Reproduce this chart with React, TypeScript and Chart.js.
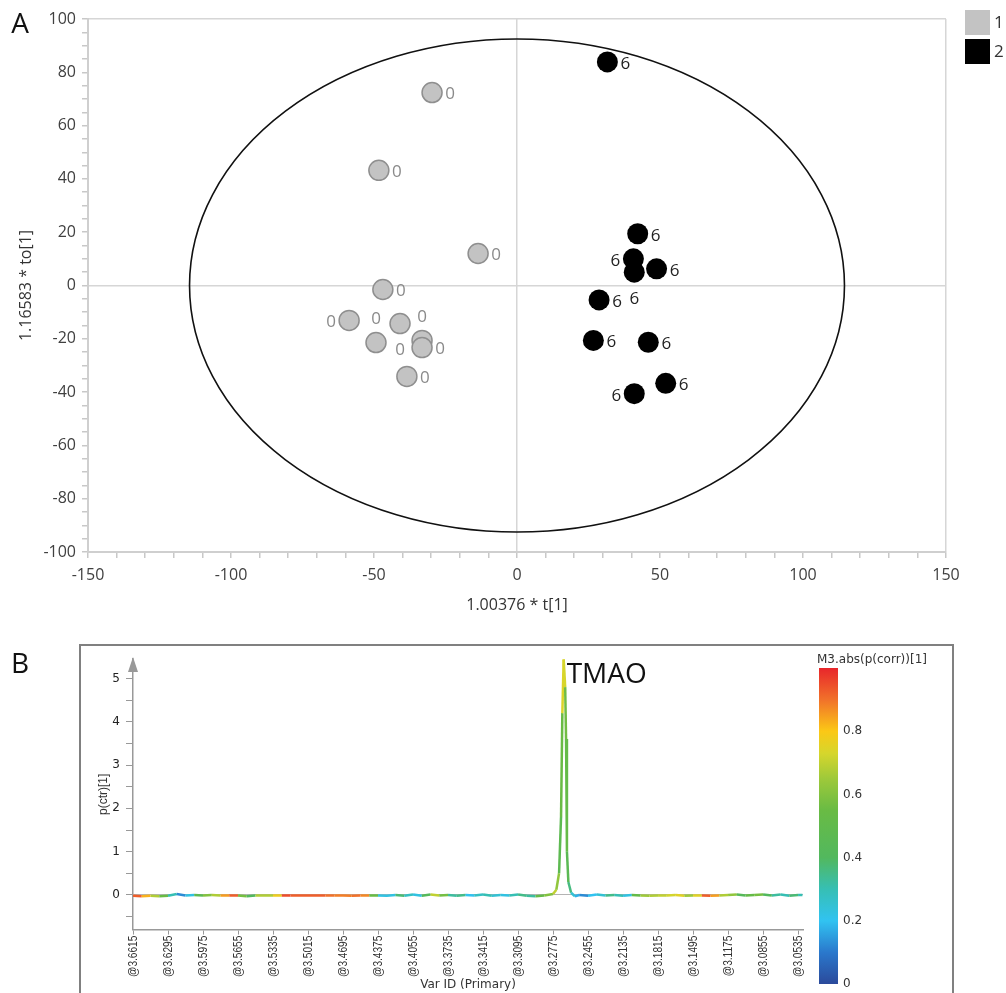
import React, { useEffect, useRef } from 'react';
import { Chart, registerables } from 'chart.js';

Chart.register(...registerables);

// ---------------- Panel A data (OPLS-DA scores) ----------------
const GROUP_NAMES = ['1', '2'];
const GROUP1_X = [-29.7, -48.3, -13.6, -46.9, -58.7, -40.9, -49.3, -33.2, -33.2, -38.5];
const GROUP1_Y = [72.4, 43.2, 12.0, -1.5, -13.1, -14.3, -21.4, -20.6, -23.3, -34.1];
const GROUP1_LABELS = ['0', '0', '0', '0', '0', '0', '0', '0', '0', '0'];
const GROUP2_X = [31.6, 42.2, 40.7, 41.0, 48.8, 28.7, 26.7, 45.9, 52.0, 41.0];
const GROUP2_Y = [83.9, 19.4, 10.0, 5.0, 6.25, -5.4, -20.6, -21.3, -36.7, -40.6];
const GROUP2_LABELS = ['6', '6', '6', '6', '6', '6', '6', '6', '6', '6'];
const A_X_TITLE = '1.00376 * t[1]';
const A_Y_TITLE = '1.16583 * to[1]';
const ELLIPSE_RX = 114.5;
const ELLIPSE_RY = 92.5;

// ---------------- Panel B data (S-line loading plot) ----------------
const PPM = [
  3.6615, 3.6535, 3.6455, 3.6375, 3.6295, 3.6215, 3.6135, 3.6055, 3.5975, 3.5895,
  3.5815, 3.5735, 3.5655, 3.5575, 3.5495, 3.5415, 3.5335, 3.5255, 3.5175, 3.5095,
  3.5015, 3.4935, 3.4855, 3.4775, 3.4695, 3.4615, 3.4535, 3.4455, 3.4375, 3.4295,
  3.4215, 3.4135, 3.4055, 3.3975, 3.3895, 3.3815, 3.3735, 3.3655, 3.3575, 3.3495,
  3.3415, 3.3335, 3.3255, 3.3175, 3.3095, 3.3015, 3.2935, 3.2855, 3.2775,
  3.2745, 3.2720, 3.2702, 3.2690, 3.2678, 3.2664, 3.2656, 3.2648, 3.2635, 3.2610, 3.2575, 3.2535,
  3.2455, 3.2375, 3.2295, 3.2215, 3.2135, 3.2055, 3.1975, 3.1895, 3.1815, 3.1735,
  3.1655, 3.1575, 3.1495, 3.1415, 3.1335, 3.1255, 3.1175, 3.1095, 3.1015, 3.0935,
  3.0855, 3.0775, 3.0695, 3.0615, 3.0535, 3.0495,
];
const P_CTR = [
  -0.02, -0.03, -0.02, -0.03, -0.02, 0.02, -0.01, 0.0, -0.01, 0.0,
  -0.01, -0.01, -0.01, -0.03, -0.01, -0.01, -0.01, -0.01, -0.01, -0.01,
  -0.01, -0.01, -0.01, -0.01, -0.01, -0.02, -0.01, -0.01, -0.01, -0.02,
  0.0, -0.02, 0.01, -0.02, 0.01, -0.01, 0.0, -0.02, 0.0, -0.01,
  0.01, -0.02, 0.0, -0.01, 0.01, -0.02, -0.03, -0.01, 0.02,
  0.12, 0.5, 1.8, 4.2, 5.44, 4.8, 3.6, 1.0, 0.3, 0.05, -0.03, 0.0,
  -0.02, 0.01, -0.01, 0.0, -0.02, 0.0, -0.01, -0.02, -0.01, -0.01,
  0.0, -0.02, -0.01, -0.01, -0.02, -0.01, 0.0, 0.01, -0.01, 0.0,
  0.01, -0.01, 0.01, -0.02, 0.0, 0.0,
];
const ABS_PCORR = [
  0.95, 0.9, 0.75, 0.6, 0.5, 0.1, 0.15, 0.3, 0.65, 0.55,
  0.8, 0.9, 0.95, 0.2, 0.6, 0.75, 0.6, 0.95, 0.95, 0.9,
  0.95, 0.9, 0.95, 0.85, 0.92, 0.85, 0.95, 0.8, 0.3, 0.15,
  0.3, 0.45, 0.1, 0.35, 0.5, 0.9, 0.25, 0.4, 0.3, 0.1,
  0.45, 0.15, 0.35, 0.1, 0.5, 0.2, 0.45, 0.6, 0.6,
  0.8, 0.45, 0.5, 0.6, 0.88, 0.58, 0.55, 0.5, 0.42, 0.3, 0.2, 0.15,
  0.1, 0.3, 0.2, 0.5, 0.1, 0.35, 0.7, 0.6, 0.75, 0.65,
  0.8, 0.7, 0.6, 0.9, 0.95, 0.75, 0.6, 0.65, 0.2, 0.85,
  0.3, 0.5, 0.15, 0.45, 0.3, 0.3,
];
const B_X_TICKS = [
  3.6615, 3.6295, 3.5975, 3.5655, 3.5335, 3.5015, 3.4695, 3.4375, 3.4055, 3.3735,
  3.3415, 3.3095, 3.2775, 3.2455, 3.2135, 3.1815, 3.1495, 3.1175, 3.0855, 3.0535,
];
const B_X_TITLE = 'Var ID (Primary)';
const B_Y_TITLE = 'p(ctr)[1]';
const COLORBAR_TITLE = 'M3.abs(p(corr))[1]';
const COLORBAR_TICKS = [0, 0.2, 0.4, 0.6, 0.8];
const PEAK_NAME = 'TMAO';

// ---------------- styles ----------------
const FONT_A = '"Open Sans", "Noto Sans", sans-serif';
const FONT_B = '"DejaVu Sans", Verdana, sans-serif';
const FONT_ARIAL = '"Liberation Sans", Arial, sans-serif';

const CMAP_STOPS: [number, number[]][] = [
  [0, [43, 74, 155]],
  [0.1, [42, 120, 204]],
  [0.2, [49, 195, 241]],
  [0.3, [54, 191, 180]],
  [0.4, [82, 184, 94]],
  [0.55, [105, 187, 68]],
  [0.65, [158, 201, 58]],
  [0.73, [214, 214, 44]],
  [0.8, [251, 200, 22]],
  [0.9, [241, 113, 42]],
  [1, [232, 38, 43]],
];
function cmap(v: number): string {
  const t = Math.max(0, Math.min(1, v));
  for (let i = 1; i < CMAP_STOPS.length; i++) {
    const [t1, c1] = CMAP_STOPS[i];
    const [t0, c0] = CMAP_STOPS[i - 1];
    if (t <= t1) {
      const f = (t - t0) / (t1 - t0);
      const c = c0.map((a, k) => Math.round(a + (c1[k] - a) * f));
      return `rgb(${c[0]},${c[1]},${c[2]})`;
    }
  }
  const c = CMAP_STOPS[CMAP_STOPS.length - 1][1];
  return `rgb(${c[0]},${c[1]},${c[2]})`;
}

// label placement relative to the point centre (style only)
const R: [number, number] = [18, 2];
const L: [number, number] = [-18, 2];
const UP: [number, number] = [0, -23];
const DN: [number, number] = [0, 27];
const G1_LABEL_POS = [R, R, R, R, L, DN, UP, UP, R, R];
const G2_LABEL_POS = [R, R, L, DN, R, R, R, R, R, L];

const panelAPlugin = {
  id: 'panelA',
  beforeDatasetsDraw(chart: any) {
    const { ctx, scales } = chart;
    const x = scales.x, y = scales.y;
    const cx = x.getPixelForValue(0);
    const cy = y.getPixelForValue(0);
    const rx = x.getPixelForValue(ELLIPSE_RX) - cx;
    const ry = cy - y.getPixelForValue(ELLIPSE_RY);
    ctx.save();
    ctx.beginPath();
    ctx.ellipse(cx, cy, rx, ry, 0, 0, Math.PI * 2);
    ctx.lineWidth = 1.6;
    ctx.strokeStyle = '#111';
    ctx.stroke();
    ctx.restore();
  },
  afterDraw(chart: any) {
    const { ctx } = chart;
    ctx.save();
    const sets = [
      { labels: GROUP1_LABELS, pos: G1_LABEL_POS, color: '#8a8a8a' },
      { labels: GROUP2_LABELS, pos: G2_LABEL_POS, color: '#222' },
    ];
    ctx.font = `17px ${FONT_A}`;
    ctx.textAlign = 'center';
    ctx.textBaseline = 'middle';
    sets.forEach((s, di) => {
      const meta = chart.getDatasetMeta(di);
      meta.data.forEach((el: any, i: number) => {
        const p = s.pos[i];
        ctx.fillStyle = s.color;
        ctx.fillText(s.labels[i], el.x + p[0], el.y + p[1]);
      });
    });
    const boxes = ['#c3c3c3', '#000000'];
    ctx.font = `17px ${FONT_A}`;
    ctx.textAlign = 'left';
    GROUP_NAMES.forEach((name, i) => {
      const top = 10 + i * 29;
      ctx.fillStyle = boxes[i];
      ctx.fillRect(965, top, 25, 25);
      ctx.fillStyle = '#333';
      ctx.fillText(name, 994, top + 13);
    });
    ctx.font = `28px ${FONT_A}`;
    ctx.fillStyle = '#111';
    ctx.textAlign = 'center';
    ctx.fillText('A', 20, 25);
    ctx.restore();
  },
};

const panelBPlugin = {
  id: 'panelB',
  afterDraw(chart: any) {
    const { ctx, chartArea } = chart;
    ctx.save();
    // frame
    ctx.strokeStyle = '#808080';
    ctx.lineWidth = 2;
    ctx.beginPath();
    ctx.moveTo(80, chart.height + 5);
    ctx.lineTo(80, 20);
    ctx.lineTo(953, 20);
    ctx.lineTo(953, chart.height + 5);
    ctx.stroke();
    // panel letter
    ctx.font = `28px ${FONT_A}`;
    ctx.fillStyle = '#111';
    ctx.textAlign = 'center';
    ctx.textBaseline = 'middle';
    ctx.fillText('B', 20, 40);
    // y-axis arrow
    const ax = chartArea.left;
    ctx.fillStyle = '#999';
    ctx.beginPath();
    ctx.moveTo(ax, chartArea.top - 2);
    ctx.lineTo(ax - 5, chartArea.top + 13);
    ctx.lineTo(ax + 5, chartArea.top + 13);
    ctx.closePath();
    ctx.fill();
    // condensed, rotated x tick labels
    const xs = chart.scales.x;
    ctx.font = `13px ${FONT_ARIAL}`;
    ctx.fillStyle = '#333';
    B_X_TICKS.forEach((v) => {
      const px = xs.getPixelForValue(v);
      ctx.save();
      ctx.translate(px, chartArea.bottom + 6);
      ctx.rotate(-Math.PI / 2);
      ctx.scale(0.78, 1);
      ctx.textAlign = 'right';
      ctx.textBaseline = 'middle';
      ctx.fillText('@' + v.toFixed(4), 0, 0);
      ctx.restore();
    });
    // peak label
    const meta = chart.getDatasetMeta(0);
    let best = 0;
    P_CTR.forEach((v, i) => { if (v > P_CTR[best]) best = i; });
    const pk = meta.data[best];
    ctx.font = `28px ${FONT_A}`;
    ctx.fillStyle = '#111';
    ctx.textAlign = 'left';
    ctx.textBaseline = 'alphabetic';
    ctx.fillText(PEAK_NAME, pk.x + 3, pk.y + 24);
    // colour bar
    const cbL = 819, cbR = 838, cbTop = 43, cbBot = 359;
    const grad = ctx.createLinearGradient(0, cbBot, 0, cbTop);
    CMAP_STOPS.forEach(([t]) => grad.addColorStop(t, cmap(t)));
    ctx.fillStyle = grad;
    ctx.fillRect(cbL, cbTop, cbR - cbL, cbBot - cbTop);
    ctx.font = `12px ${FONT_B}`;
    ctx.fillStyle = '#333';
    ctx.textAlign = 'left';
    ctx.textBaseline = 'middle';
    COLORBAR_TICKS.forEach((t) => {
      const yy = cbBot - t * (cbBot - cbTop);
      ctx.fillText(String(t), cbR + 5, yy);
    });
    ctx.fillText(COLORBAR_TITLE, 817, 35);
    ctx.restore();
  },
};

export default function App() {
  const refA = useRef<HTMLCanvasElement>(null);
  const refB = useRef<HTMLCanvasElement>(null);

  useEffect(() => {
    const chartA = new Chart(refA.current as HTMLCanvasElement, {
      type: 'scatter',
      data: {
        datasets: [
          {
            label: GROUP_NAMES[0],
            data: GROUP1_X.map((x, i) => ({ x, y: GROUP1_Y[i] })),
            backgroundColor: '#c3c3c3',
            borderColor: '#8f8f8f',
            borderWidth: 1.5,
            pointRadius: 10,
          },
          {
            label: GROUP_NAMES[1],
            data: GROUP2_X.map((x, i) => ({ x, y: GROUP2_Y[i] })),
            backgroundColor: '#000',
            borderColor: '#000',
            borderWidth: 0,
            pointRadius: 10.5,
          },
        ],
      },
      options: {
        responsive: false,
        animation: false,
        layout: { padding: { left: 0, right: 60, top: 19, bottom: 10 } },
        plugins: { legend: { display: false }, tooltip: { enabled: false } },
        scales: {
          x: {
            type: 'linear',
            min: -150,
            max: 150,
            afterFit: (s: any) => { s.height = 63; },
            border: { color: '#cfcfcf', width: 2 },
            grid: {
              color: (c: any) => (c.tick && (c.tick.value === 0 || c.tick.value === 150) ? '#d6d6d6' : 'rgba(0,0,0,0)'),
              lineWidth: 1.5,
              tickColor: '#c8c8c8',
              tickLength: 6,
            },
            ticks: {
              stepSize: 10,
              autoSkip: false,
              maxRotation: 0,
              padding: 8,
              color: '#404040',
              font: { family: FONT_A, size: 16 },
              callback: (v: any) => (v % 50 === 0 ? String(v) : ''),
            },
            title: {
              display: true,
              text: A_X_TITLE,
              color: '#333',
              font: { family: FONT_A, size: 16 },
              padding: { top: 0, bottom: 0 },
            },
          },
          y: {
            type: 'linear',
            min: -100,
            max: 100,
            afterFit: (s: any) => { s.width = 88; },
            border: { color: '#cfcfcf', width: 2 },
            grid: {
              color: (c: any) => (c.tick && (c.tick.value === 0 || c.tick.value === 100) ? '#d6d6d6' : 'rgba(0,0,0,0)'),
              lineWidth: 1.5,
              tickColor: '#c8c8c8',
              tickLength: 6,
            },
            ticks: {
              stepSize: 5,
              autoSkip: false,
              padding: 6,
              color: '#404040',
              font: { family: FONT_A, size: 16 },
              callback: (v: any) => (v % 20 === 0 ? String(v) : ''),
            },
            title: {
              display: true,
              text: A_Y_TITLE,
              color: '#333',
              font: { family: FONT_A, size: 16 },
              padding: { top: 17, bottom: 0 },
            },
          },
        },
      },
      plugins: [panelAPlugin],
    } as any);

    const chartB = new Chart(refB.current as HTMLCanvasElement, {
      type: 'line',
      data: {
        datasets: [
          {
            label: B_Y_TITLE,
            data: PPM.map((x, i) => ({ x, y: P_CTR[i] })),
            borderWidth: 2.5,
            pointRadius: 0,
            tension: 0,
            borderColor: '#6bbd45',
            segment: {
              borderColor: (c: any) => cmap((ABS_PCORR[c.p0DataIndex] + ABS_PCORR[c.p1DataIndex]) / 2),
            },
          },
        ],
      },
      options: {
        responsive: false,
        animation: false,
        layout: { padding: { left: 0, right: 203, top: 34, bottom: 1 } },
        plugins: { legend: { display: false }, tooltip: { enabled: false } },
        scales: {
          x: {
            type: 'linear',
            reverse: true,
            min: 3.049,
            max: 3.6615,
            afterFit: (s: any) => { s.height = 62.4; },
            afterBuildTicks: (s: any) => { s.ticks = B_X_TICKS.map((v) => ({ value: v })); },
            border: { color: '#999', width: 1.5 },
            grid: { drawOnChartArea: false, tickColor: '#999', tickLength: 5 },
            ticks: { display: false, autoSkip: false },
            title: {
              display: true,
              text: B_X_TITLE,
              color: '#333',
              font: { family: FONT_B, size: 12 },
              padding: { top: 0, bottom: 0 },
            },
          },
          y: {
            type: 'linear',
            min: -0.8,
            max: 5.45,
            afterFit: (s: any) => { s.width = 133; },
            border: { color: '#999', width: 1.5 },
            grid: {
              color: (c: any) => (c.tick && c.tick.value === 0 ? '#b4b4b4' : 'rgba(0,0,0,0)'),
              lineWidth: 1,
              tickColor: '#999',
              tickLength: 7,
            },
            ticks: {
              stepSize: 0.5,
              includeBounds: false,
              autoSkip: false,
              padding: 6,
              color: '#222',
              font: { family: FONT_B, size: 12 },
              callback: (v: any) => (Number.isInteger(v) ? String(v) : ''),
            },
            title: {
              display: true,
              text: B_Y_TITLE,
              color: '#333',
              font: { family: FONT_ARIAL, size: 12 },
              padding: { top: 96, bottom: 0 },
            },
          },
        },
      },
      plugins: [panelBPlugin],
    } as any);

    return () => {
      chartA.destroy();
      chartB.destroy();
    };
  }, []);

  return (
    <div style={{ position: 'absolute', left: 0, top: 0, width: 1006, height: 993, background: '#fff' }}>
      <canvas ref={refA} width={1006} height={625} style={{ position: 'absolute', left: 0, top: 0, display: 'block' }} />
      <canvas ref={refB} width={1006} height={368} style={{ position: 'absolute', left: 0, top: 625, display: 'block' }} />
    </div>
  );
}
